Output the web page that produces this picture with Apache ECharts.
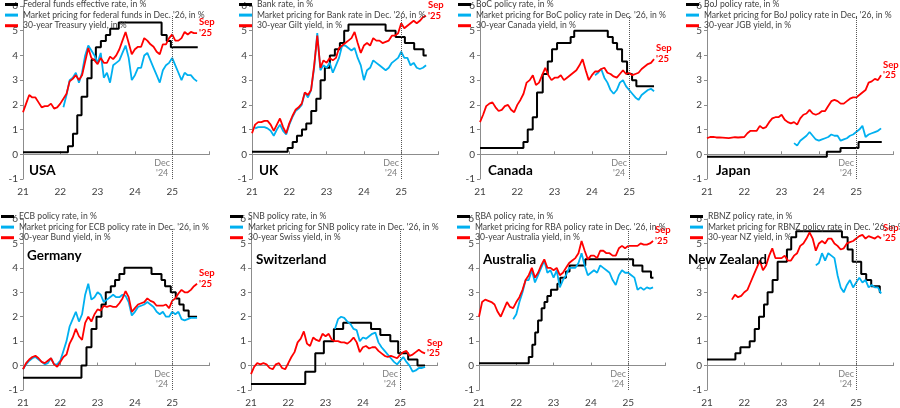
<!DOCTYPE html>
<html>
<head>
<meta charset="utf-8">
<script src="https://cdn.jsdelivr.net/npm/echarts@6/dist/echarts.min.js"></script>
<style>
  html, body { margin: 0; padding: 0; background: #fff; }
  #chart { width: 900px; height: 408px; }
</style>
</head>
<body>
<div id="chart"></div>
<script>
// policy rate change dates and levels, then monthly series (value at start of month)

// USA
const usaNames = ['Federal funds effective rate, in %', "Market pricing for federal funds in Dec. '26, in %", '30-year Treasury yield, in %'];
const usaRate = [['2021-01-01', 0.08], ['2022-03-17', 0.33], ['2022-05-05', 0.83], ['2022-06-16', 1.58], ['2022-07-28', 2.33], ['2022-09-22', 3.08], ['2022-11-03', 3.83], ['2022-12-15', 4.33], ['2023-02-02', 4.58], ['2023-03-23', 4.83], ['2023-05-04', 5.08], ['2023-07-27', 5.33], ['2024-09-19', 4.83], ['2024-11-08', 4.58], ['2024-12-19', 4.33], ['2025-09-08', 4.33]];
const usaPricingStart = [2022, 2];
const usaPricing = [1.9, 2.4, 3.0, 3.1, 3.3, 2.9, 3.3, 4.0, 4.4, 4.2, 4.0,
  3.7, 4.1, 3.1, 3.3, 2.9, 3.6, 3.7, 3.8, 4.1, 4.4, 3.9, 3.0,
  3.2, 3.5, 3.5, 4.0, 4.1, 3.8, 3.5, 3.2, 2.9, 3.4, 3.6, 3.7,
  3.9, 3.6, 3.3, 3.0, 3.3, 3.2, 3.2, 3.05, 2.95];
const usaYieldStart = [2021, 1];
const usaYield = [1.7, 2.05, 2.4, 2.3, 2.3, 2.1, 1.9, 1.95, 1.95, 2.05, 1.85, 1.9,
  2.05, 2.25, 2.45, 2.95, 3.05, 3.2, 3.0, 3.2, 3.75, 4.3, 3.9, 3.8,
  3.65, 3.9, 3.7, 3.7, 3.95, 3.85, 4.0, 4.25, 4.6, 4.95, 4.5, 4.05,
  4.25, 4.35, 4.35, 4.7, 4.6, 4.45, 4.35, 4.15, 4.05, 4.45, 4.45, 4.7,
  4.85, 4.6, 4.6, 4.7, 4.95, 4.85, 4.95, 4.9, 4.9];

// UK
const ukNames = ['Bank rate, in %', "Market pricing for Bank rate in Dec. '26, in %", '30-year Gilt yield, in %'];
const ukRate = [['2021-01-01', 0.1], ['2021-12-16', 0.25], ['2022-02-03', 0.5], ['2022-03-17', 0.75], ['2022-05-05', 1.0], ['2022-06-16', 1.25], ['2022-08-04', 1.75], ['2022-09-22', 2.25], ['2022-11-03', 3.0], ['2022-12-15', 3.5], ['2023-02-02', 4.0], ['2023-03-23', 4.25], ['2023-05-11', 4.5], ['2023-06-22', 5.0], ['2023-08-03', 5.25], ['2024-08-01', 5.0], ['2024-11-07', 4.75], ['2025-02-06', 4.5], ['2025-05-08', 4.25], ['2025-08-07', 4.0], ['2025-09-08', 4.0]];
const ukPricingStart = [2021, 2];
const ukPricing = [1.05, 1.1, 1.1, 1.1, 1.05, 0.95, 0.75, 1.0, 1.2, 0.95, 0.8,
  1.2, 1.5, 1.75, 1.85, 2.0, 2.5, 2.3, 2.6, 3.5, 4.9, 3.4, 3.6,
  3.5, 3.7, 3.3, 3.6, 3.9, 4.4, 4.4, 4.3, 4.2, 4.3, 3.9, 3.6,
  3.0, 3.4, 3.5, 3.8, 3.7, 3.6, 3.5, 3.4, 3.5, 3.7, 3.8, 3.9,
  4.15, 3.9, 3.9, 3.6, 3.7, 3.5, 3.45, 3.5, 3.6];
const ukYieldStart = [2021, 1];
const ukYield = [0.85, 1.2, 1.3, 1.3, 1.35, 1.35, 1.2, 0.95, 1.2, 1.45, 1.1, 0.85,
  1.25, 1.55, 1.8, 1.9, 2.05, 2.5, 2.4, 2.6, 3.6, 4.8, 3.5, 3.8,
  3.7, 3.9, 3.8, 3.9, 4.3, 4.4, 4.5, 4.6, 4.7, 4.95, 4.5, 4.1,
  4.4, 4.5, 4.4, 4.7, 4.6, 4.6, 4.5, 4.55, 4.6, 4.8, 4.8, 4.9,
  5.3, 5.1, 5.2, 5.3, 5.4, 5.3, 5.4, 5.55, 5.6];

// Canada
const caNames = ['BoC policy rate, in %', "Market pricing for BoC policy rate in Dec. '26, in %", '30-year Canada yield, in %'];
const caRate = [['2021-01-01', 0.25], ['2022-03-02', 0.5], ['2022-04-13', 1.0], ['2022-06-01', 1.5], ['2022-07-13', 2.5], ['2022-09-07', 3.25], ['2022-10-26', 3.75], ['2022-12-07', 4.25], ['2023-01-25', 4.5], ['2023-06-07', 4.75], ['2023-07-12', 5.0], ['2024-06-05', 4.75], ['2024-07-24', 4.5], ['2024-09-04', 4.25], ['2024-10-23', 3.75], ['2024-12-11', 3.25], ['2025-01-29', 3.0], ['2025-03-12', 2.75], ['2025-09-01', 2.75]];
const caPricingStart = [2024, 2];
const caPricing = [3.2, 3.3, 3.45, 3.1, 2.9, 2.6, 2.45, 2.6, 2.9, 3.0, 2.75,
  2.6, 2.45, 2.3, 2.2, 2.4, 2.5, 2.6, 2.65, 2.55];
const caYieldStart = [2021, 1];
const caYield = [1.3, 1.6, 1.95, 2.05, 2.1, 1.9, 1.75, 1.8, 1.95, 2.0, 1.8, 1.7,
  2.0, 2.2, 2.45, 2.9, 3.0, 3.2, 2.8, 2.9, 3.2, 3.5, 3.2, 3.0,
  3.1, 3.1, 3.2, 3.0, 3.1, 3.2, 3.3, 3.4, 3.6, 3.85, 3.4, 3.0,
  3.2, 3.35, 3.35, 3.45, 3.5, 3.3, 3.25, 3.15, 3.1, 3.25, 3.4, 3.25,
  3.3, 3.2, 3.25, 3.3, 3.45, 3.55, 3.65, 3.7, 3.85];

// Japan
const jpNames = ['BoJ policy rate, in %', "Market pricing for BoJ policy rate in Dec. '26, in %", '30-year JGB yield, in %'];
const jpRate = [['2021-01-01', -0.1], ['2024-03-19', 0.1], ['2024-07-31', 0.25], ['2025-01-24', 0.5], ['2025-09-08', 0.5]];
const jpPricingStart = [2023, 5];
const jpPricing = [0.45, 0.35, 0.55, 0.65, 0.75, 0.9, 0.75, 0.6,
  0.55, 0.6, 0.65, 0.7, 0.8, 0.75, 0.75, 0.55, 0.6, 0.65, 0.75, 0.8,
  0.9, 1.0, 1.15, 0.7, 0.8, 0.85, 0.9, 0.95, 1.05];
const jpYieldStart = [2021, 1];
const jpYield = [0.65, 0.7, 0.7, 0.68, 0.68, 0.67, 0.66, 0.65, 0.67, 0.69, 0.68, 0.69,
  0.7, 0.85, 0.95, 0.95, 0.95, 1.15, 1.05, 1.1, 1.3, 1.45, 1.5, 1.5,
  1.6, 1.4, 1.3, 1.25, 1.3, 1.2, 1.45, 1.6, 1.65, 1.8, 1.65, 1.6,
  1.65, 1.75, 1.75, 1.95, 2.15, 2.2, 2.15, 2.05, 2.05, 2.15, 2.25, 2.3,
  2.3, 2.4, 2.5, 2.6, 2.9, 2.95, 3.05, 3.0, 3.2];

// Germany
const deNames = ['ECB policy rate, in %', "Market pricing for ECB policy rate in Dec. '26, in %", '30-year Bund yield, in %'];
const deRate = [['2021-01-01', -0.5], ['2022-07-27', 0.0], ['2022-09-14', 0.75], ['2022-11-02', 1.5], ['2022-12-21', 2.0], ['2023-02-08', 2.5], ['2023-03-22', 3.0], ['2023-05-10', 3.25], ['2023-06-21', 3.5], ['2023-08-02', 3.75], ['2023-09-20', 4.0], ['2024-06-12', 3.75], ['2024-09-18', 3.5], ['2024-10-23', 3.25], ['2024-12-18', 3.0], ['2025-02-05', 2.75], ['2025-03-12', 2.5], ['2025-04-23', 2.25], ['2025-06-11', 2.0], ['2025-09-01', 2.0]];
const dePricingStart = [2021, 1];
const dePricing = [-0.15, 0.05, 0.2, 0.3, 0.35, 0.25, 0.15, 0.05, 0.1, 0.3, 0.05, 0.05,
  0.2, 0.6, 1.0, 1.6, 1.9, 2.2, 1.8, 2.1, 2.9, 3.35, 2.7, 2.8,
  3.0, 2.9, 2.6, 2.7, 2.8, 2.9, 2.8, 2.8, 2.9, 2.85, 2.6, 2.05,
  2.2, 2.4, 2.45, 2.5, 2.6, 2.5, 2.4, 2.2, 2.1, 2.2, 2.0, 2.0,
  2.2, 2.1, 2.2, 1.9, 1.85, 1.9, 1.95, 1.95, 1.95];
const deYieldStart = [2021, 1];
const deYield = [-0.15, 0.1, 0.25, 0.35, 0.4, 0.3, 0.15, 0.1, 0.2, 0.3, 0.05, -0.05,
  0.15, 0.35, 0.45, 0.9, 1.15, 1.5, 1.2, 1.05, 1.75, 2.0, 1.8, 2.1,
  2.3, 2.25, 2.45, 2.4, 2.45, 2.4, 2.4, 2.55, 2.75, 3.05, 2.8, 2.2,
  2.35, 2.5, 2.55, 2.6, 2.75, 2.65, 2.6, 2.45, 2.45, 2.45, 2.5, 2.35,
  2.65, 2.75, 2.95, 3.1, 3.0, 3.0, 3.1, 3.25, 3.35];

// Switzerland
const chNames = ['SNB policy rate, in %', "Market pricing for SNB policy rate in Dec. '26, in %", '30-year Swiss yield, in %'];
const chRate = [['2021-01-01', -0.75], ['2022-06-16', -0.25], ['2022-09-22', 0.5], ['2022-12-15', 1.0], ['2023-03-23', 1.5], ['2023-06-22', 1.75], ['2024-03-21', 1.5], ['2024-06-20', 1.25], ['2024-09-26', 1.0], ['2024-12-12', 0.5], ['2025-03-20', 0.25], ['2025-06-19', 0.0], ['2025-09-01', 0.0]];
const chPricingStart = [2023, 4];
const chPricing = [1.5, 1.9, 2.0, 1.95, 1.8, 1.7, 1.5, 1.45, 1.0,
  1.15, 1.1, 1.2, 1.3, 1.35, 0.95, 0.75, 0.6, 0.45, 0.3, 0.15, 0.05,
  0.2, 0.35, 0.15, 0.0, -0.25, -0.2, -0.1, -0.1, -0.05];
const chYieldStart = [2021, 1];
const chYield = [-0.35, -0.05, 0.1, 0.05, 0.1, 0.05, -0.1, -0.15, 0.05, 0.1, -0.1, -0.15,
  0.1, 0.35, 0.55, 0.95, 1.1, 1.4, 0.9, 0.8, 1.15, 1.05, 1.0, 1.3,
  1.2, 1.3, 1.05, 1.0, 1.0, 0.95, 0.95, 0.9, 1.0, 1.15, 0.95, 0.55,
  0.75, 0.8, 0.7, 0.75, 0.75, 0.6, 0.5, 0.4, 0.35, 0.4, 0.35, 0.3,
  0.45, 0.55, 0.6, 0.4, 0.45, 0.55, 0.65, 0.55, 0.5];

// Australia
const auNames = ['RBA policy rate, in %', "Market pricing for RBA policy rate in Dec. '26, in %", '30-year Australia yield, in %'];
const auRate = [['2021-01-01', 0.1], ['2022-05-03', 0.35], ['2022-06-07', 0.85], ['2022-07-05', 1.35], ['2022-08-02', 1.85], ['2022-09-06', 2.35], ['2022-10-04', 2.6], ['2022-11-01', 2.85], ['2022-12-06', 3.1], ['2023-02-07', 3.35], ['2023-03-07', 3.6], ['2023-05-02', 3.85], ['2023-06-06', 4.1], ['2023-11-07', 4.35], ['2025-02-18', 4.1], ['2025-05-20', 3.85], ['2025-08-12', 3.6], ['2025-09-05', 3.6]];
const auPricingStart = [2021, 12];
const auPricing = [1.9,
  2.1, 2.6, 3.0, 3.5, 3.5, 3.9, 3.4, 3.7, 4.0, 4.3, 3.8, 3.9,
  3.6, 3.9, 3.2, 3.5, 3.7, 4.0, 4.0, 4.0, 4.2, 4.6, 4.1, 3.7,
  3.8, 3.9, 3.8, 4.1, 4.0, 3.9, 3.8, 3.5, 3.3, 3.7, 3.9, 3.8,
  3.8, 3.7, 3.6, 3.1, 3.2, 3.1, 3.2, 3.15, 3.2];
const auYieldStart = [2021, 1];
const auYield = [2.0, 2.6, 2.7, 2.65, 2.6, 2.5, 2.2, 2.0, 2.3, 2.6, 2.4, 2.35,
  2.6, 2.8, 3.1, 3.5, 3.7, 4.0, 3.6, 3.8, 4.1, 4.35, 4.0, 4.0,
  3.9, 4.0, 3.7, 3.8, 4.0, 4.2, 4.3, 4.4, 4.6, 5.1, 4.7, 4.35,
  4.5, 4.5, 4.4, 4.7, 4.7, 4.6, 4.6, 4.5, 4.5, 4.8, 4.9, 4.8,
  4.9, 4.9, 4.9, 4.9, 5.0, 4.95, 4.95, 5.0, 5.1];

// New Zealand
const nzNames = ['RBNZ policy rate, in %', "Market pricing for RBNZ policy rate in Dec. '26, in %", '30-year NZ yield, in %'];
const nzRate = [['2021-01-01', 0.25], ['2021-10-06', 0.5], ['2021-11-24', 0.75], ['2022-02-23', 1.0], ['2022-04-13', 1.5], ['2022-05-25', 2.0], ['2022-07-13', 2.5], ['2022-08-17', 3.0], ['2022-10-05', 3.5], ['2022-11-23', 4.25], ['2023-02-22', 4.75], ['2023-04-05', 5.25], ['2023-05-24', 5.5], ['2024-08-14', 5.25], ['2024-10-09', 4.75], ['2024-11-27', 4.25], ['2025-02-19', 3.75], ['2025-04-09', 3.5], ['2025-05-28', 3.25], ['2025-08-20', 3.0], ['2025-09-01', 3.0]];
const nzPricingStart = [2023, 12];
const nzPricing = [4.1,
  4.2, 4.6, 4.3, 4.6, 4.5, 4.4, 3.7, 3.2, 3.0, 3.3, 3.5, 3.2,
  3.4, 3.6, 3.4, 3.5, 3.2, 3.3, 3.2, 3.2, 2.95];
const nzYieldStart = [2021, 9];
const nzYield = [2.7, 2.9, 2.8, 2.85,
  3.0, 3.1, 3.4, 3.7, 4.0, 4.3, 3.9, 4.1, 4.5, 4.8, 4.4, 4.4,
  4.4, 4.5, 4.3, 4.3, 4.5, 4.6, 4.9, 5.0, 5.2, 5.45, 5.2, 4.7,
  5.0, 5.1, 5.0, 5.2, 5.2, 5.0, 4.9, 4.75, 4.8, 5.0, 5.05, 5.1,
  5.2, 5.3, 5.35, 5.2, 5.3, 5.25, 5.2, 5.3, 5.2];

const countries = ['USA', 'UK', 'Canada', 'Japan', 'Germany', 'Switzerland', 'Australia', 'New Zealand'];
const yearTicks = [2021, 2022, 2023, 2024, 2025];
const cutoffYear = 2025;

const panels = [
  [usaNames, usaRate, usaPricingStart, usaPricing, usaYieldStart, usaYield],
  [ukNames, ukRate, ukPricingStart, ukPricing, ukYieldStart, ukYield],
  [caNames, caRate, caPricingStart, caPricing, caYieldStart, caYield],
  [jpNames, jpRate, jpPricingStart, jpPricing, jpYieldStart, jpYield],
  [deNames, deRate, dePricingStart, dePricing, deYieldStart, deYield],
  [chNames, chRate, chPricingStart, chPricing, chYieldStart, chYield],
  [auNames, auRate, auPricingStart, auPricing, auYieldStart, auYield],
  [nzNames, nzRate, nzPricingStart, nzPricing, nzYieldStart, nzYield]
];

// layout of the 8 small charts (pixels)
const layout = [
  { left: 23, top: 6, h: 173, legX: 23, legY: 0, tX: 29, tY: 164 },
  { left: 252, top: 6, h: 173, legX: 257, legY: 0, tX: 259, tY: 164 },
  { left: 480, top: 6, h: 173, legX: 476, legY: 0, tX: 488, tY: 164 },
  { left: 707, top: 6, h: 173, legX: 704, legY: 0, tX: 716, tY: 164 },
  { left: 23, top: 219, h: 172, legX: 19, legY: 212, tX: 27, tY: 249 },
  { left: 251, top: 219, h: 172, legX: 248, legY: 212, tX: 256, tY: 253 },
  { left: 479, top: 219, h: 172, legX: 475, legY: 212, tX: 483, tY: 253 },
  { left: 707, top: 219, h: 172, legX: 708, legY: 212, tX: 688, tY: 253 }
];

const FONT = 'Lato, "Open Sans", sans-serif';

function toYear(s) {
  const d = Date.parse(s + 'T00:00:00Z');
  const y = Number(s.slice(0, 4));
  const a = Date.UTC(y, 0, 1), b = Date.UTC(y + 1, 0, 1);
  return y + (d - a) / (b - a);
}
function monthly(start, values) {
  return values.map((v, i) => [start[0] + (start[1] - 1 + i) / 12, v]);
}

const option = {
  animation: false,
  textStyle: { fontFamily: FONT },
  grid: [], xAxis: [], yAxis: [], legend: [], title: [], series: []
};

panels.forEach((p, i) => {
  const L = layout[i];
  const [names, rate, pStart, pricing, yStart, yld] = p;
  option.grid.push({ left: L.left, top: L.top, width: 186.5, height: L.h });
  // labels along the bottom
  option.xAxis.push({
    gridIndex: i, type: 'value', min: 2021, max: 2026, interval: 1, position: 'bottom',
    axisLine: { show: false, onZero: false }, axisTick: { show: false }, splitLine: { show: false },
    axisLabel: {
      fontSize: 10, color: '#404040', margin: 8,
      formatter: v => (yearTicks.indexOf(v) >= 0 ? String(v).slice(2) : '')
    }
  });
  // axis line crossing at zero
  option.xAxis.push({
    gridIndex: i, type: 'value', min: 2021, max: 2026, interval: 1, position: 'bottom',
    axisLine: { show: true, onZero: true, lineStyle: { color: '#8c8c8c', width: 1 } },
    axisTick: { show: true, inside: true, length: 3, lineStyle: { color: '#8c8c8c' } },
    axisLabel: { show: false }, splitLine: { show: false }
  });
  option.yAxis.push({
    gridIndex: i, type: 'value', min: -1, max: 6, interval: 1,
    axisLine: { show: true, lineStyle: { color: '#8c8c8c', width: 1 } },
    axisTick: { show: true, length: 3, lineStyle: { color: '#8c8c8c' } },
    splitLine: { show: false },
    axisLabel: { fontSize: 10, color: '#404040', margin: 5 }
  });
  option.legend.push({
    data: names, orient: 'vertical', left: L.legX - 18, top: L.legY, padding: 0,
    itemWidth: 13, itemHeight: 3, itemGap: 1.6, icon: 'rect', selectedMode: false,
    textStyle: { fontSize: 8.6, color: '#404040', lineHeight: 9, fontFamily: FONT }
  });
  option.title.push({
    text: countries[i], left: L.tX, top: L.tY, padding: 0,
    textStyle: { fontSize: 13.5, fontWeight: 'bold', color: '#000', fontFamily: FONT }
  });
  const ax = { xAxisIndex: 2 * i, yAxisIndex: i };
  option.series.push(Object.assign({
    name: names[0], type: 'line', step: 'end', showSymbol: false, clip: false,
    data: rate.map(r => [toYear(r[0]), r[1]]),
    lineStyle: { color: '#000', width: 2 }, itemStyle: { color: '#000' },
    markLine: {
      silent: true, symbol: 'none', label: { show: false },
      lineStyle: { type: 'dotted', color: '#555', width: 1 },
      data: [[{ coord: [cutoffYear, -1] }, { coord: [cutoffYear, 5.6] }]]
    },
    markPoint: {
      silent: true, symbol: 'circle', symbolSize: 0,
      label: {
        show: true, position: 'left', distance: 10, align: 'center',
        formatter: "Dec\n'24", color: '#808080', fontSize: 9, lineHeight: 10, fontFamily: FONT
      },
      data: [{ coord: [cutoffYear, -0.55] }]
    }
  }, ax));
  option.series.push(Object.assign({
    name: names[1], type: 'line', showSymbol: false,
    data: monthly(pStart, pricing),
    lineStyle: { color: '#00b0f0', width: 1.8 }, itemStyle: { color: '#00b0f0' }
  }, ax));
  option.series.push(Object.assign({
    name: names[2], type: 'line', showSymbol: false,
    data: monthly(yStart, yld),
    lineStyle: { color: '#ff0000', width: 1.8 }, itemStyle: { color: '#ff0000' },
    endLabel: {
      show: true, formatter: "Sep\n'25", color: '#ff0000', fontWeight: 'bold',
      fontSize: 9.5, lineHeight: 10.5, align: 'left', verticalAlign: 'bottom', distance: 2,
      offset: [0, 5], fontFamily: FONT
    }
  }, ax));
});

const chart = echarts.init(document.getElementById('chart'));
chart.setOption(option);
</script>
</body>
</html>
